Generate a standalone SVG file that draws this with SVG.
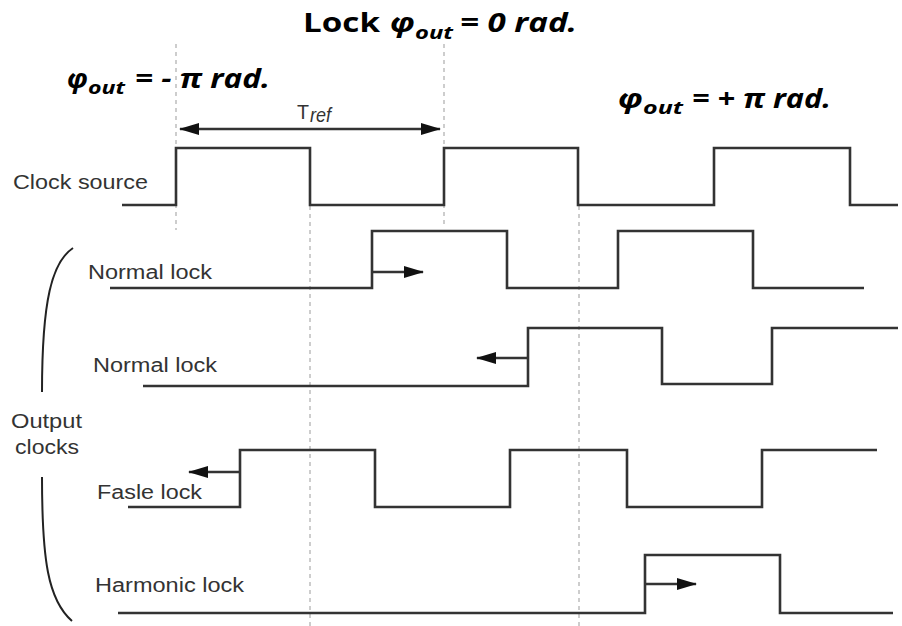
<svg xmlns="http://www.w3.org/2000/svg" width="902" height="626" viewBox="0 0 902 626">
<style>
.wave{fill:none;stroke:#333;stroke-width:2.6;stroke-linejoin:miter}
.guide{fill:none;stroke:#bdbdbd;stroke-width:1.5;stroke-dasharray:4,4}
.lbl{font-family:"Liberation Sans",Arial,sans-serif;font-size:20px;fill:#333}
.hd{font-family:"Open Sans","Liberation Sans",sans-serif;font-weight:bold;fill:#000}
.it{font-style:italic}
.arr{fill:none;stroke:#333;stroke-width:2.4}
.brk{fill:none;stroke:#222;stroke-width:2}
</style>
<defs>
<marker id="ah" viewBox="0 0 20 12" refX="19" refY="6" markerWidth="20" markerHeight="12" markerUnits="userSpaceOnUse" orient="auto-start-reverse">
<path d="M0,0 L20,6 L0,12 z" fill="#111"/>
</marker>
</defs>
<rect width="902" height="626" fill="#fff"/>
<g id="guides">
<line class="guide" x1="176" y1="44" x2="176" y2="230"/>
<line class="guide" x1="444" y1="44" x2="444" y2="226"/>
<line class="guide" x1="310" y1="206" x2="310" y2="626"/>
<line class="guide" x1="579" y1="206" x2="579" y2="626"/>
</g>
<g id="titles">
<text class="hd" x="303" y="32" font-size="27" textLength="77" lengthAdjust="spacingAndGlyphs">Lock</text>
<text class="hd it" x="390" y="32" font-size="27" textLength="25" lengthAdjust="spacingAndGlyphs">φ</text>
<text class="hd it" x="415" y="39" font-size="17" textLength="38" lengthAdjust="spacingAndGlyphs">out</text>
<text class="hd it" x="460" y="32" font-size="27" textLength="117" lengthAdjust="spacingAndGlyphs">= 0 rad.</text>
<text class="hd it" x="67" y="88" font-size="27" textLength="21" lengthAdjust="spacingAndGlyphs">φ</text>
<text class="hd it" x="88" y="94" font-size="17" textLength="37" lengthAdjust="spacingAndGlyphs">out</text>
<text class="hd it" x="135" y="88" font-size="27" textLength="135" lengthAdjust="spacingAndGlyphs">= - π rad.</text>
<text class="hd it" x="618" y="108" font-size="27" textLength="25" lengthAdjust="spacingAndGlyphs">φ</text>
<text class="hd it" x="643" y="114" font-size="17" textLength="40" lengthAdjust="spacingAndGlyphs">out</text>
<text class="hd it" x="692" y="108" font-size="27" textLength="139" lengthAdjust="spacingAndGlyphs">= + π rad.</text>
</g>
<g id="tref">
<text class="lbl" x="297" y="119" font-size="17" fill="#555" textLength="12" lengthAdjust="spacingAndGlyphs">T</text>
<text class="lbl it" x="310" y="122" font-size="10" fill="#555" textLength="21" lengthAdjust="spacingAndGlyphs">ref</text>
</g>
<g id="clock-source">
<text class="lbl" x="13" y="189" textLength="135" lengthAdjust="spacingAndGlyphs">Clock source</text>
<path class="wave" d="M122,205 H176 V148 H310 V205 H444 V148 H578 V205 H714 V148 H850 V205 H898"/>
</g>
<g id="normal-lock-1">
<text class="lbl" x="88" y="279" textLength="124" lengthAdjust="spacingAndGlyphs">Normal lock</text>
<path class="wave" d="M110,288 H372 V231 H507 V288 H618 V231 H753 V288 H864"/>
</g>
<g id="normal-lock-2">
<text class="lbl" x="93" y="372" textLength="124" lengthAdjust="spacingAndGlyphs">Normal lock</text>
<path class="wave" d="M143,386 H528 V328 H662 V384 H772 V328 H898"/>
</g>
<g id="output-clocks">
<text class="lbl" x="11" y="428" textLength="71" lengthAdjust="spacingAndGlyphs">Output</text>
<text class="lbl" x="15" y="454" textLength="64" lengthAdjust="spacingAndGlyphs">clocks</text>
<path class="brk" d="M73,248 C52,262 42,300 42,392"/>
<path class="brk" d="M42,477 C42,560 48,600 72,621"/>
</g>
<g id="false-lock">
<text class="lbl" x="97" y="499" textLength="105" lengthAdjust="spacingAndGlyphs">Fasle lock</text>
<path class="wave" d="M128,507 H240 V450 H375 V507 H510 V450 H627 V507 H762 V450 H877"/>
</g>
<g id="harmonic-lock">
<text class="lbl" x="95" y="592" textLength="149" lengthAdjust="spacingAndGlyphs">Harmonic lock</text>
<path class="wave" d="M118,613 H645 V555 H780 V613 H893"/>
</g>
<g id="connectors">
<line class="arr" x1="180" y1="129" x2="440" y2="129" marker-start="url(#ah)" marker-end="url(#ah)"/>
<line class="arr" x1="372" y1="272" x2="423" y2="272" marker-end="url(#ah)"/>
<line class="arr" x1="528" y1="358" x2="477" y2="358" marker-end="url(#ah)"/>
<line class="arr" x1="240" y1="472" x2="189" y2="472" marker-end="url(#ah)"/>
<line class="arr" x1="645" y1="584" x2="696" y2="584" marker-end="url(#ah)"/>
</g>
</svg>
